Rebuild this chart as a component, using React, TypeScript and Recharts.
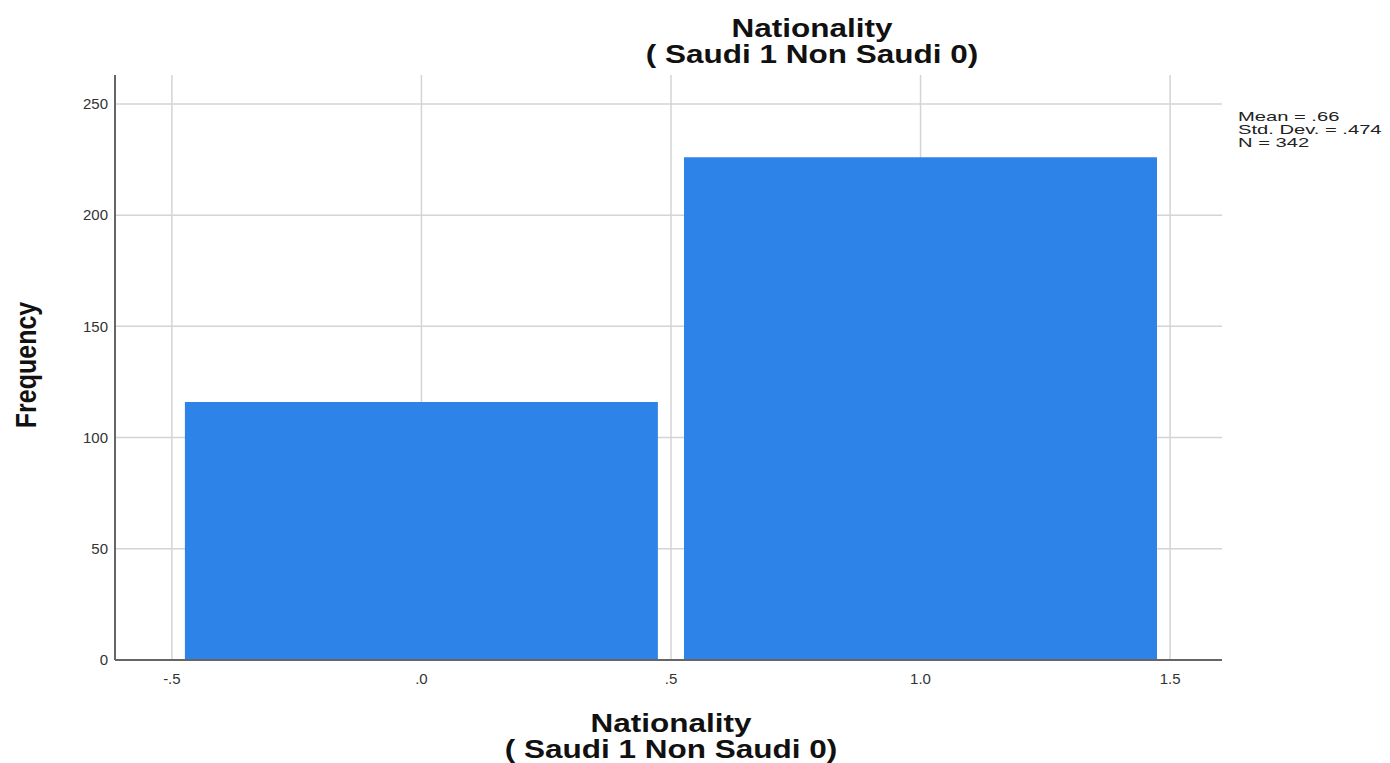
import { ComposedChart, Bar, XAxis, YAxis, CartesianGrid } from 'recharts'

const binCenters = [0, 1]
const frequencies = [116, 226]
const xTicks = [-0.5, 0, 0.5, 1, 1.5]
const xTickLabels = ['-.5', '.0', '.5', '1.0', '1.5']
const yTicks = [0, 50, 100, 150, 200, 250]
const titleLines = ['Nationality', '( Saudi 1 Non Saudi 0)']
const statsLines = ['Mean = .66', 'Std. Dev. = .474', 'N = 342']

const data = binCenters.map((x, i) => ({ x, freq: frequencies[i] }))

const font = '"Liberation Sans", Arial, sans-serif'

function xLabel(v: number) {
  const i = xTicks.indexOf(v)
  return i >= 0 ? xTickLabels[i] : String(v)
}

// the source image is stretched sideways, so the bold text is widened with scaleX
function WideLine({ text, cx, top }: { text: string; cx: number; top: number }) {
  return (
    <div style={{
      position: 'absolute', left: cx - 300, width: 600, top, height: 25,
      textAlign: 'center', fontWeight: 'bold', fontSize: 25, lineHeight: '25px',
      color: '#111', transform: 'scaleX(1.26)', whiteSpace: 'nowrap',
    }}>
      {text}
    </div>
  )
}

export default function App() {
  return (
    <div style={{ position: 'absolute', left: 0, top: 0, width: 1390, height: 763, background: '#fff', fontFamily: font }}>
      {titleLines.map((t, i) => <WideLine key={'t' + i} text={t} cx={812} top={16 + i * 25.6} />)}
      {titleLines.map((t, i) => <WideLine key={'x' + i} text={t} cx={671} top={711 + i * 25.6} />)}
      <div style={{ position: 'absolute', left: 1238, top: 110, transform: 'scaleX(1.55)', transformOrigin: 'left top' }}>
        {statsLines.map((s) => (
          <div key={s} style={{ fontSize: 13, lineHeight: '13px', height: 13, color: '#222', whiteSpace: 'nowrap' }}>{s}</div>
        ))}
      </div>
      <div style={{ position: 'absolute', left: 26, top: 365, transform: 'translate(-50%, -50%) rotate(-90deg) scaleY(1.2)', fontWeight: 'bold', fontSize: 25, lineHeight: '25px', color: '#111', whiteSpace: 'nowrap' }}>
        Frequency
      </div>
      <ComposedChart
        width={1390}
        height={763}
        data={data}
        margin={{ top: 75, right: 168, bottom: 63, left: 60 }}
      >
        <CartesianGrid stroke="#d4d4d4" strokeWidth={1.5} horizontalValues={yTicks} verticalValues={xTicks} />
        <XAxis
          dataKey="x"
          type="number"
          domain={[-0.614, 1.604]}
          ticks={xTicks}
          tickFormatter={xLabel}
          height={40}
          axisLine={{ stroke: '#666', strokeWidth: 2 }}
          tickLine={false}
          tick={{ fill: '#333', fontSize: 15, fontFamily: font }}
          tickMargin={7}
          allowDataOverflow
        />
        <YAxis
          type="number"
          domain={[0, 263]}
          ticks={yTicks}
          width={55}
          axisLine={{ stroke: '#666', strokeWidth: 2 }}
          tickLine={false}
          tick={{ fill: '#333', fontSize: 15, fontFamily: font }}
          tickMargin={1}
          allowDataOverflow
        />
        <Bar dataKey="freq" fill="#2e83e8" barSize={473} isAnimationActive={false} />
      </ComposedChart>
    </div>
  )
}
